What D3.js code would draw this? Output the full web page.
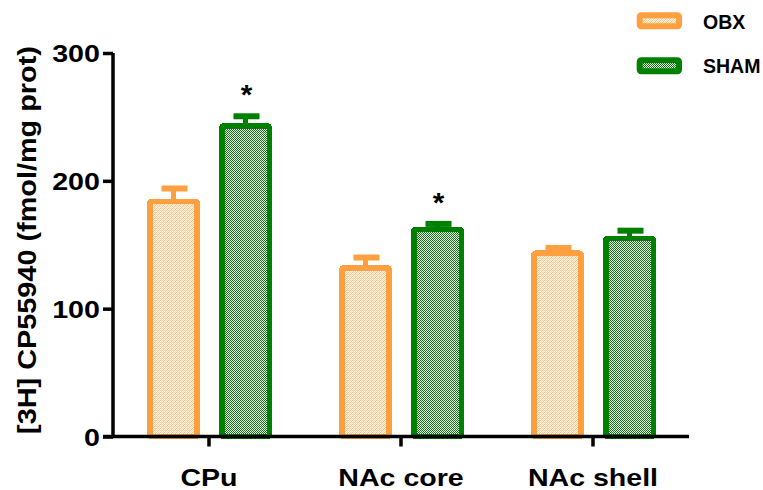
<!DOCTYPE html>
<html>
<head>
<meta charset="utf-8">
<script src="https://cdn.jsdelivr.net/npm/d3@7/dist/d3.min.js"></script>
<style>
  html, body { margin: 0; padding: 0; background: #fff; }
  svg { display: block; }
  text { font-family: "Liberation Sans", Arial, sans-serif; font-weight: bold; fill: #000; }
</style>
</head>
<body>
<svg id="chart" width="763" height="490"></svg>
<script>
// ---- data ----
const categories = ["CPu", "NAc core", "NAc shell"];
const seriesNames = ["OBX", "SHAM"];
const obxMeans = [184, 132, 143.5];
const obxSem = [10, 8, 4];
const shamMeans = [243, 162, 155];
const shamSem = [7.5, 4.3, 6];
const significant = [false, false, false];
const shamSignificant = [true, true, false];
const yTicks = [0, 100, 200, 300];
const yLabel = "[3H] CP55940 (fmol/mg prot)";

const colors = { OBX: "#FFA040", SHAM: "#008000" };

const svg = d3.select("#chart");
const defs = svg.append("defs");

// patterns
const pO = defs.append("pattern").attr("id", "patOBX")
  .attr("patternUnits", "userSpaceOnUse").attr("width", 4).attr("height", 4);
pO.append("rect").attr("width", 4).attr("height", 4).attr("fill", "#FFF4E8");
[[0,0,"#FFC080"],[2,0,"#FFD4A8"],[1,1,"#FFDAB5"],[3,1,"#FFB870"],[0,2,"#FFD0A0"],[2,2,"#FFBE7A"],[3,3,"#FFDDBA"],[1,3,"#FFC68C"]]
  .forEach(([x,y,c]) => pO.append("rect").attr("x",x).attr("y",y).attr("width",1).attr("height",1).attr("fill",c));

const pS = defs.append("pattern").attr("id", "patSHAM")
  .attr("patternUnits", "userSpaceOnUse").attr("width", 2).attr("height", 2);
pS.append("rect").attr("width", 2).attr("height", 2).attr("fill", "#ffffff");
pS.append("rect").attr("x",0).attr("y",0).attr("width",1).attr("height",1).attr("fill","#008000");
pS.append("rect").attr("x",1).attr("y",1).attr("width",1).attr("height",1).attr("fill","#008000");

const fills = { OBX: "url(#patOBX)", SHAM: "url(#patSHAM)" };

// scales
const x0 = d3.scaleBand().domain(categories).range([113, 689]).padding(0);
const x1 = d3.scaleBand().domain(seriesNames).range([34, 159]).paddingInner(0.264).paddingOuter(0);
const y = d3.scaleLinear().domain([0, 300]).range([436.5, 53]);

const rows = [];
categories.forEach((c, i) => {
  rows.push({ cat: c, s: "OBX", v: obxMeans[i], e: obxSem[i], sig: significant[i] });
  rows.push({ cat: c, s: "SHAM", v: shamMeans[i], e: shamSem[i], sig: shamSignificant[i] });
});

const sw = 5.5;
const bars = svg.append("g");
rows.forEach(d => {
  const bx = x0(d.cat) + x1(d.s);
  const bw = x1.bandwidth();
  const cx = bx + bw / 2;
  // error bar (upper)
  bars.append("line").attr("x1", cx).attr("x2", cx)
    .attr("y1", y(d.v)).attr("y2", y(d.v + d.e))
    .attr("stroke", colors[d.s]).attr("stroke-width", 5);
  bars.append("line").attr("x1", cx - 12).attr("x2", cx + 14)
    .attr("y1", y(d.v + d.e)).attr("y2", y(d.v + d.e))
    .attr("stroke", colors[d.s]).attr("stroke-width", 6).attr("stroke-linecap", "butt");
  bars.append("rect")
    .attr("x", bx + sw / 2).attr("width", bw - sw)
    .attr("y", y(d.v)).attr("height", y(0) - y(d.v))
    .attr("rx", 2)
    .attr("fill", fills[d.s]).attr("stroke", colors[d.s]).attr("stroke-width", sw)
    .attr("shape-rendering", "crispEdges");
  if (d.sig) {
    svg.append("text").attr("text-anchor", "middle")
      .attr("transform", `translate(${cx + 1},${y(d.v + d.e) - 3 - 9}) scale(1.1,1)`)
      .attr("font-size", 27).text("*");
  }
});

// axes
const yAxis = svg.append("g").attr("transform", "translate(113,0)")
  .call(d3.axisLeft(y).tickValues(yTicks).tickSize(10).tickPadding(3).tickSizeOuter(0));
yAxis.select(".domain").attr("stroke-width", 3.5).attr("d", `M0,${y(300)}V${y(0)}`);
yAxis.selectAll(".tick line").attr("stroke-width", 3.5);
yAxis.selectAll(".tick text")
  .attr("x", null).attr("dy", "0.36em")
  .attr("transform", "translate(-13,0) scale(1.17,1)")
  .attr("font-size", 24.5).attr("font-family", null).attr("fill", null);

const xAxis = svg.append("g").attr("transform", `translate(0,${y(0)})`)
  .call(d3.axisBottom(x0).tickSize(10).tickSizeOuter(0).tickPadding(0));
xAxis.select(".domain").attr("stroke-width", 3.5).attr("d", `M103,0H689`);
xAxis.selectAll(".tick line").attr("stroke-width", 3.5);
xAxis.selectAll(".tick text")
  .attr("y", null).attr("dy", null)
  .attr("transform", "translate(0,49.5) scale(1.19,1)")
  .attr("font-size", 24).attr("font-family", null).attr("fill", null);
svg.selectAll(".domain, .tick line").attr("stroke", "#000");

// y label
svg.append("text").attr("text-anchor", "middle")
  .attr("transform", "translate(36,240) rotate(-90) scale(1.11,1)")
  .attr("font-size", 26).text(yLabel);

// legend
const legendY = [15.3, 60.3];
const textY = [29, 72.5];
seriesNames.forEach((s, i) => {
  svg.append("rect").attr("x", 639.7).attr("y", legendY[i]).attr("width", 39.3).attr("height", 11)
    .attr("rx", 1.5)
    .attr("fill", fills[s]).attr("stroke", colors[s]).attr("stroke-width", 6);
  svg.append("text").attr("x", 703).attr("y", textY[i]).attr("font-size", 19.5).text(s);
});
</script>
</body>
</html>
